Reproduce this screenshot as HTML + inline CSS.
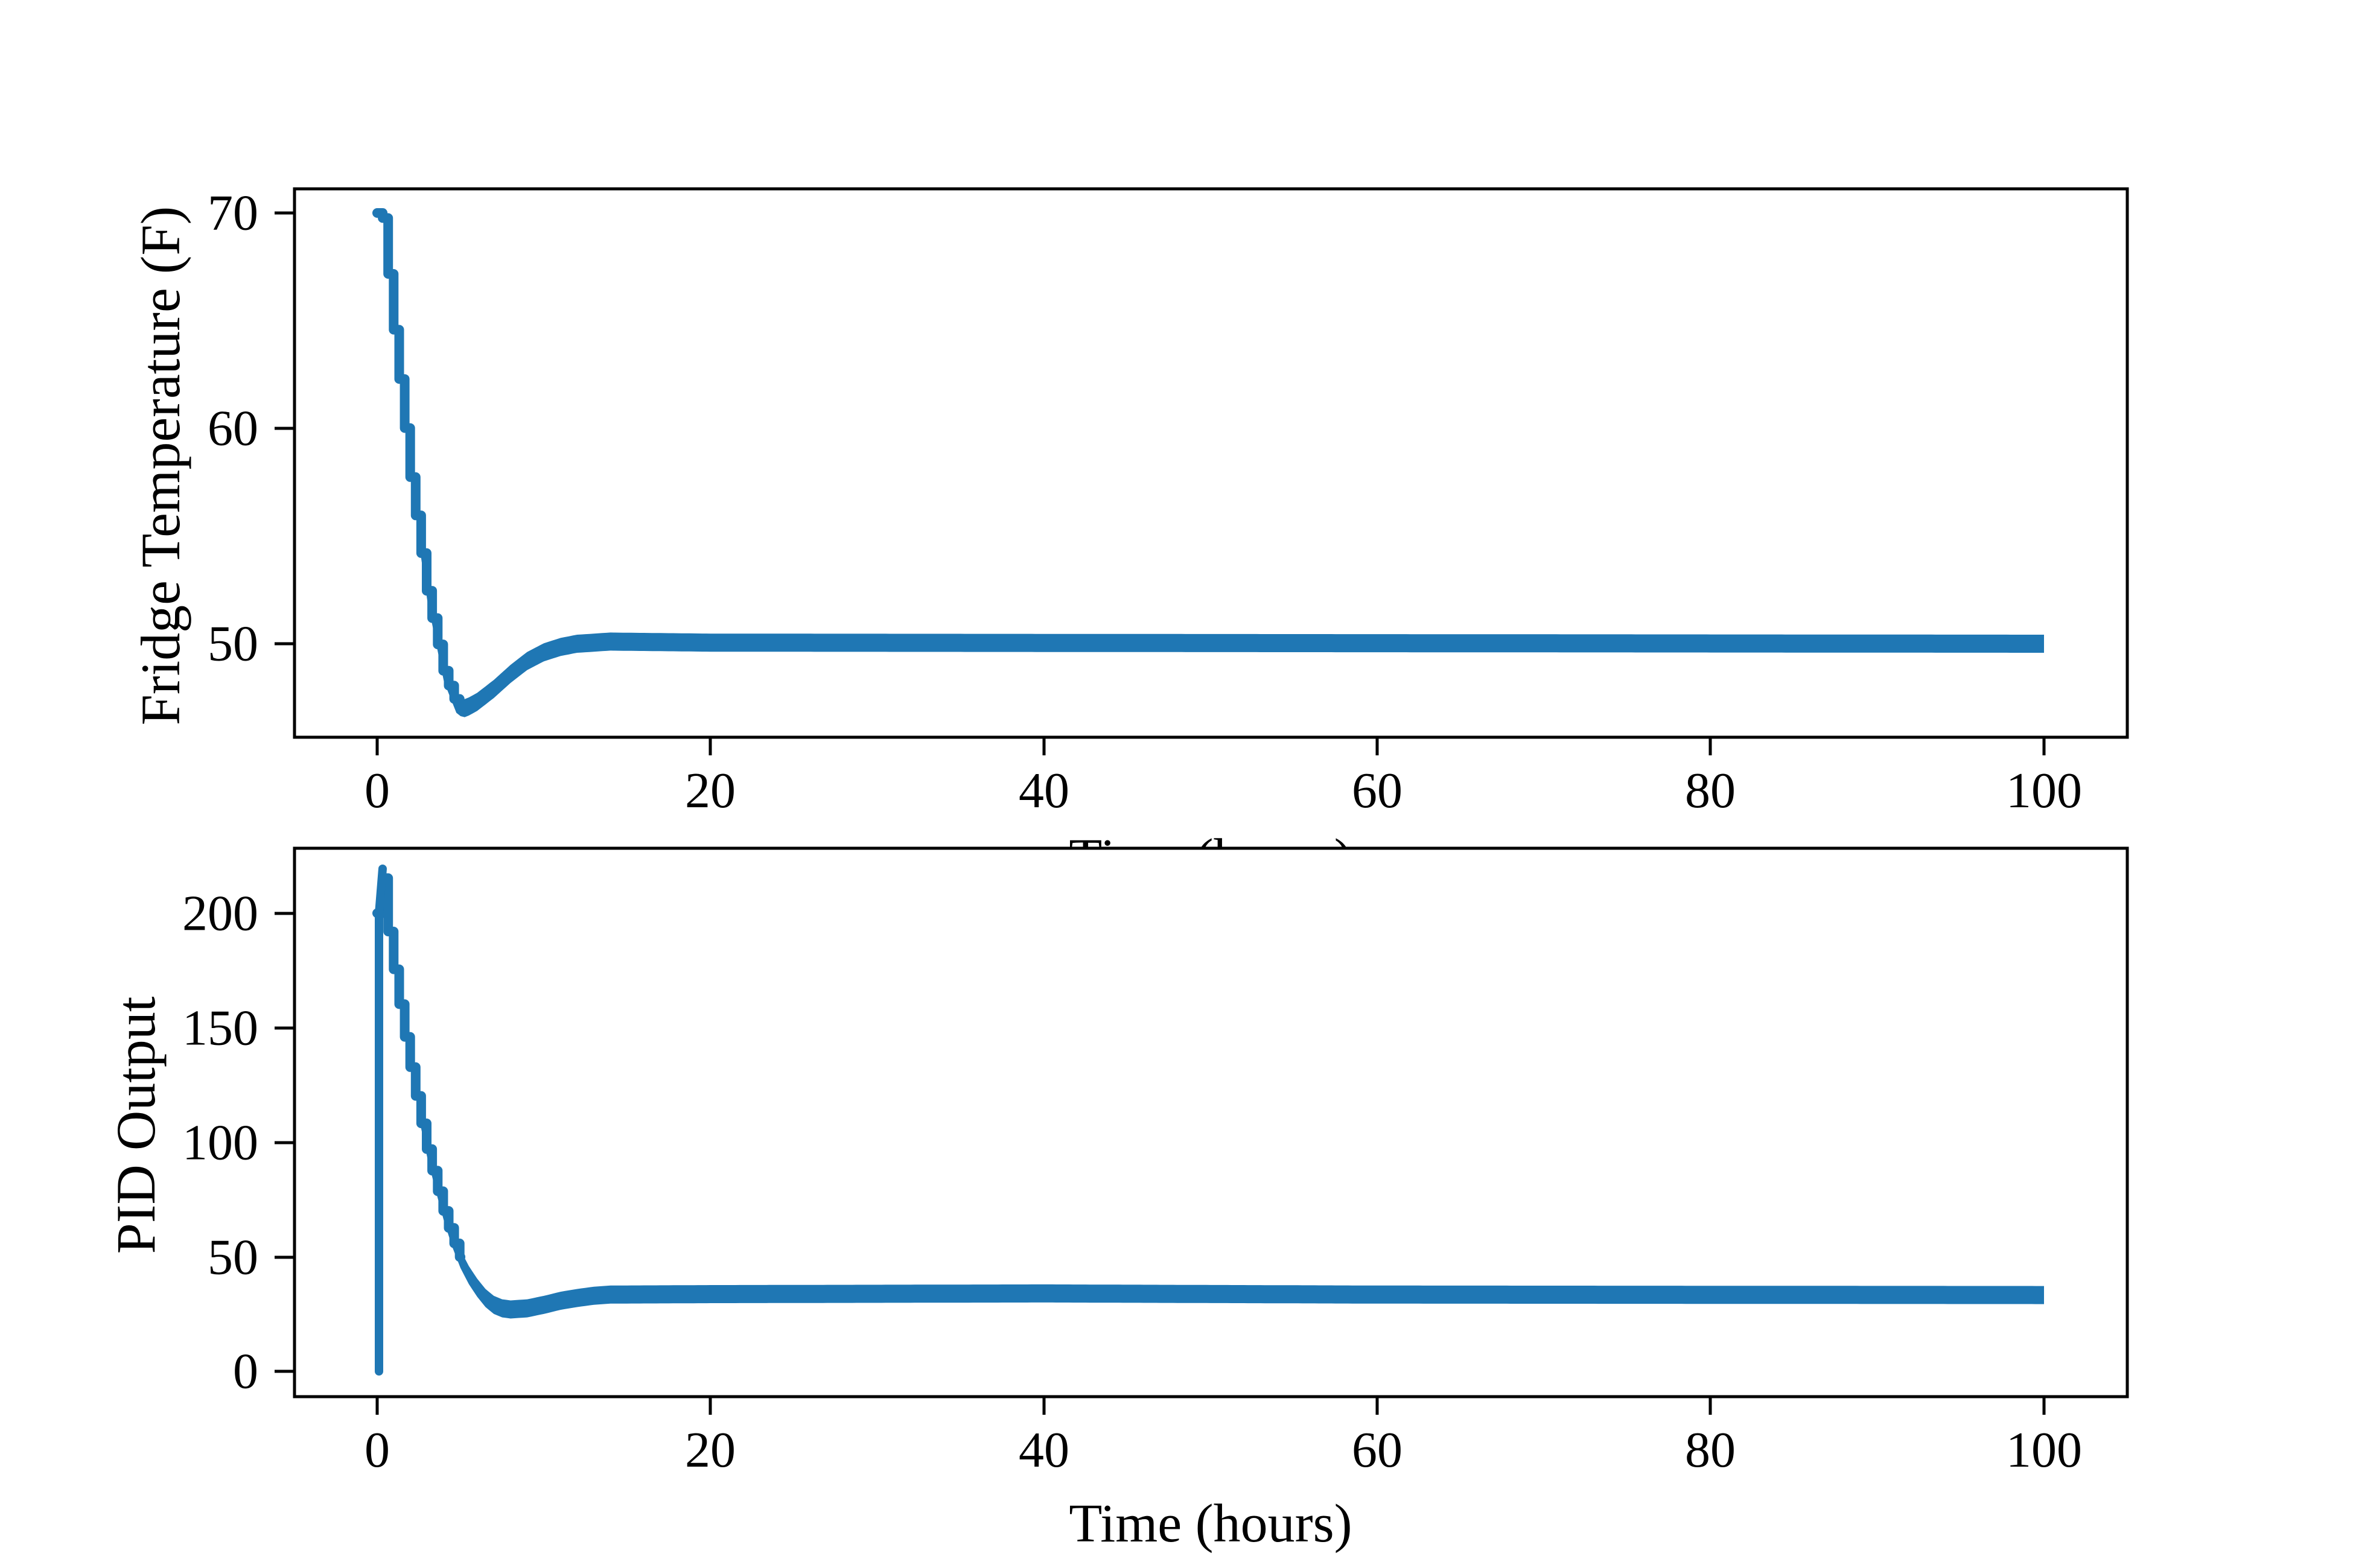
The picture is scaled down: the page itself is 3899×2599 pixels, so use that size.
<!DOCTYPE html>
<html><head><meta charset="utf-8"><style>
html,body{margin:0;padding:0;background:#fff;}
svg{display:block;}
text{font-family:"Liberation Serif","DejaVu Serif",serif;fill:#000;}
</style></head><body>
<svg id="s" width="3899" height="2599" viewBox="0 0 3899 2599" xmlns="http://www.w3.org/2000/svg">
<rect width="3899" height="2599" fill="#fff"/>
<g id="top"></g>
<text x="2006" y="1452" font-size="90" text-anchor="middle">Time (hours)</text>
<rect x="486" y="1404" width="3041" height="911" fill="#fff"/>
<g id="bot"></g>
<g font-size="84" text-anchor="middle">
<text x="625" y="1338">0</text><text x="1177" y="1338">20</text><text x="1730" y="1338">40</text><text x="2282" y="1338">60</text><text x="2834" y="1338">80</text><text x="3387" y="1338">100</text>
<text x="625" y="2431">0</text><text x="1177" y="2431">20</text><text x="1730" y="2431">40</text><text x="2282" y="2431">60</text><text x="2834" y="2431">80</text><text x="3387" y="2431">100</text>
</g>
<g font-size="84" text-anchor="end" dominant-baseline="central">
<text x="428" y="353">70</text><text x="428" y="710">60</text><text x="428" y="1067">50</text>
<text x="428" y="1514">200</text><text x="428" y="1704">150</text><text x="428" y="1894">100</text><text x="428" y="2084">50</text><text x="428" y="2273">0</text>
</g>
<text x="2006" y="2555" font-size="90" text-anchor="middle">Time (hours)</text>
<text transform="translate(297,772) rotate(-90)" font-size="92" text-anchor="middle">Fridge Temperature (F)</text>
<text transform="translate(256,1865) rotate(-90)" font-size="92" text-anchor="middle">PID Output</text>
<g fill="none" stroke="#000" stroke-width="5">
<rect x="488" y="313" width="3037" height="909"/>
<rect x="488" y="1406" width="3037" height="909"/>
<path d="M455 353H488M455 710H488M455 1067H488M455 1514H488M455 1704H488M455 1894H488M455 2084H488M455 2273H488"/>
<path d="M625 1222V1252M1177 1222V1252M1730 1222V1252M2282 1222V1252M2834 1222V1252M3387 1222V1252"/>
<path d="M625 2315V2345M1177 2315V2345M1730 2315V2345M2282 2315V2345M2834 2315V2345M3387 2315V2345"/>
</g>
</svg>
<script>
function interp(pts,t){for(var i=1;i<pts.length;i++){if(t<=pts[i][0]){var a=pts[i-1],b=pts[i];var u=(t-a[0])/(b[0]-a[0]);return a[1]+(b[1]-a[1])*u;}}return pts[pts.length-1][1];}
function X(t){return 625+t*27.62;}
var TP=[[0,70],[0.3,70],[1,64.5],[2,57.6],[3,52.3],[4,48.6],[4.8,47.1],[5.3,47.0],[6,47.3],[7,47.9],[8,48.6],[9,49.2],[10,49.6],[11,49.85],[12,50.0],[14,50.1],[20,50.05],[100,50]];
var PP=[[0,200],[0.3,218],[0.5,200],[1,175],[1.5,152],[2,132],[2.5,113],[3,96],[3.5,82],[4,69],[4.5,58],[5,49],[5.5,42],[6,36.5],[6.5,32],[7,29],[7.5,27.5],[8,27],[9,27.5],[10,29],[11,30.8],[12,32],[13,33],[14,33.5],[20,33.7],[40,34],[60,33.5],[100,33.3]];
function build(g,pts,Y,band){
  var ns="http://www.w3.org/2000/svg";
  var d,t,y;
  var step=0.33;
  d="M"+X(0)+" "+Y(pts[0][1]);
  for(t=0;t<=5;t+=step){
    y=Y(interp(pts,t));
    d+=" L"+X(t).toFixed(1)+" "+y.toFixed(1)+" L"+X(Math.min(t+step,5)).toFixed(1)+" "+y.toFixed(1);
  }
  var p=document.createElementNS(ns,"path");
  p.setAttribute("d",d);p.setAttribute("fill","none");p.setAttribute("stroke","#1f77b4");p.setAttribute("stroke-width","16");p.setAttribute("stroke-linejoin","round");p.setAttribute("stroke-linecap","round");
  g.appendChild(p);
  var pts2=[];
  for(t=2.5;t<=100.001;t+=0.25){pts2.push([X(t),Y(interp(pts,t)),t]);}
  var hw=function(t){return t<5?band*(0.55+0.45*(t-2.5)/2.5):band;};
  d="M"+pts2[0][0]+" "+(pts2[0][1]-hw(pts2[0][2]));
  for(var i=1;i<pts2.length;i++)d+=" L"+pts2[i][0].toFixed(1)+" "+(pts2[i][1]-hw(pts2[i][2])).toFixed(1);
  for(var i=pts2.length-1;i>=0;i--)d+=" L"+pts2[i][0].toFixed(1)+" "+(pts2[i][1]+hw(pts2[i][2])).toFixed(1);
  d+="Z";
  p=document.createElementNS(ns,"path");p.setAttribute("d",d);p.setAttribute("fill","#1f77b4");g.appendChild(p);
}
var gt=document.getElementById("top"),gb=document.getElementById("bot");
build(gt,TP,function(v){return 1067-(v-50)*35.7;},15);
build(gb,PP,function(v){return 2273-v*3.797;},15);
var p=document.createElementNS("http://www.w3.org/2000/svg","path");
p.setAttribute("d","M628 2273 L628 1514 L634 1440");p.setAttribute("fill","none");p.setAttribute("stroke","#1f77b4");p.setAttribute("stroke-width","14");p.setAttribute("stroke-linecap","round");
gb.appendChild(p);
</script>
</body></html>
